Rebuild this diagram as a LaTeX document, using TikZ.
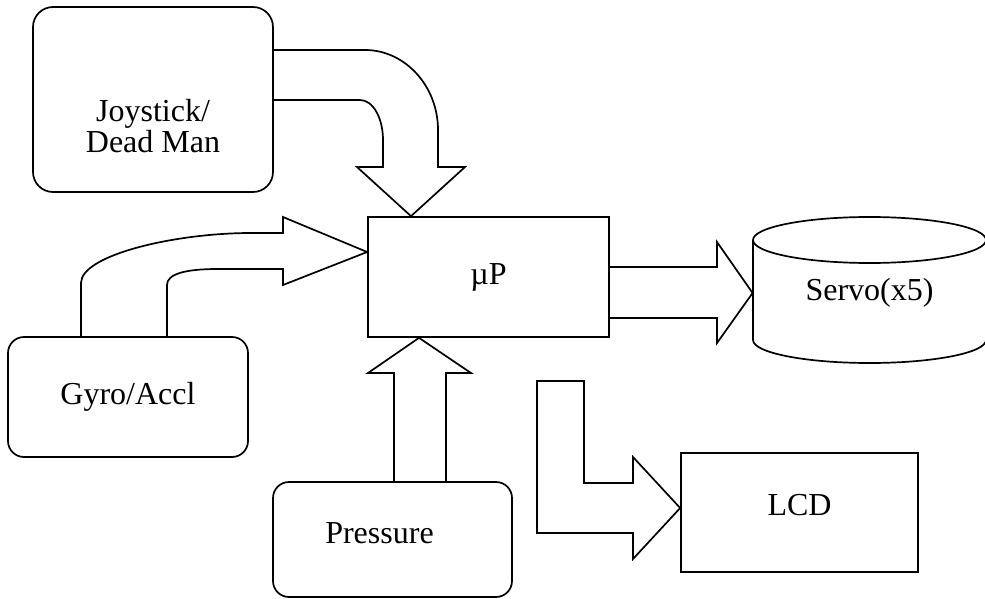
\documentclass[tikz,border=0pt]{standalone}
\usepackage{fontspec}
\setmainfont{Liberation Serif}

\tikzset{
  boxtext/.style = {align=center, font=\fontsize{16}{15.5}\selectfont},
  unit/.style = {draw, line width=0.85pt, boxtext},
  roundunit/.style = {unit, rounded corners=8pt},
  blockarrow/.style = {draw, line width=0.85pt, line join=miter},
}

\begin{document}
\begin{tikzpicture}[x=0.5pt, y=-0.5pt]
   \useasboundingbox (0,0) rectangle (985,599);
   % blocks
   \node[roundunit, rounded corners=10pt, minimum width=120pt, minimum height=92.5pt,
         label={[boxtext, yshift=-13.5pt]center:{Joystick/\\Dead Man}}] (joy) at (153,99.5) {};
   \node[unit, minimum width=120.5pt, minimum height=60pt] (mp) at (488.5,277) {µP};
   \node[roundunit, minimum width=120pt, minimum height=60pt] (gyro) at (128,397) {Gyro/Accl};
   \node[roundunit, minimum width=119.5pt, minimum height=57.5pt,
         label={[boxtext, xshift=-6.5pt, yshift=3pt]center:Pressure}] (press) at (392.5,539.5) {};
   \node[unit, minimum width=118.5pt, minimum height=59.5pt,
         label={[boxtext, yshift=3.5pt]center:LCD}] (lcd) at (799.5,512.5) {};
   \node[boxtext, minimum width=116.5pt, minimum height=73pt] (servo) at (869.5,293) {Servo(x5)};
   % servo drum
   \draw[line width=0.85pt] (869.5,240) ellipse [x radius=58.25pt, y radius=11.5pt];
   \draw[line width=0.85pt] (753,240) -- (753,340)
      arc [start angle=180, end angle=360, x radius=58.25pt, y radius=11.5pt] -- (986,240);
   % fat arrows
   \draw[blockarrow] (joy.east |- 0,50) -- (365,50) .. controls (405,50) and (438,86) .. (438,130)
      -- (438,167) -- (465,167) -- (mp.north -| 411,0) -- (357,167) -- (383,167) -- (383,140)
      .. controls (383,118) and (373,100) .. (360,100) -- (joy.east |- 0,100);
   \draw[blockarrow] (gyro.north -| 81,0) -- (81,283) .. controls (81,255) and (175,233) .. (251,233)
      -- (283,233) -- (283,217) -- (mp.west |- 0,252) -- (283,285) -- (283,269) -- (218,269)
      .. controls (185,269) and (167,274) .. (167,285) -- (gyro.north -| 167,0);
   \draw[blockarrow] (press.north -| 394,0) -- (394,373) -- (368,373) -- (mp.south -| 419,0)
      -- (471,373) -- (446,373) -- (press.north -| 446,0);
   \draw[blockarrow] (mp.east |- 0,267) -- (717,267) -- (717,242) -- (servo.west |- 0,293)
      -- (717,343) -- (717,318) -- (mp.east |- 0,318);
   \draw[blockarrow] (537,381) -- (584,381) -- (584,483) -- (633,483) -- (633,457)
      -- (lcd.west |- 0,508) -- (633,559) -- (633,533) -- (537,533) -- cycle;
\end{tikzpicture}
\end{document}
